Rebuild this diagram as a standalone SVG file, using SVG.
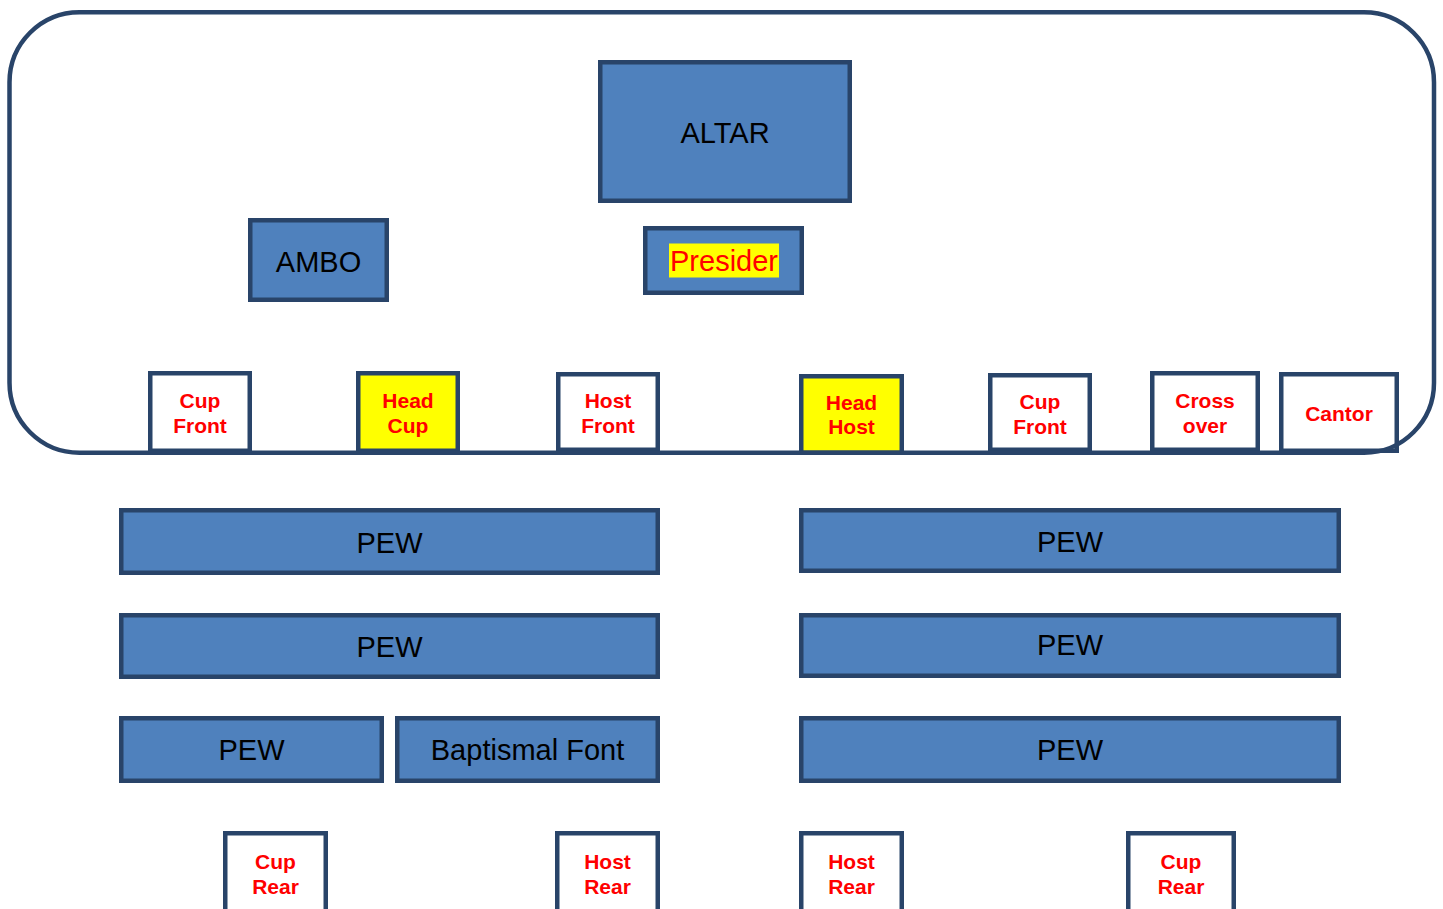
<svg xmlns="http://www.w3.org/2000/svg" width="1443" height="909" viewBox="0 0 1443 909">
<style>
.blue{fill:#4F81BD;stroke:#294469;stroke-width:4.5}
.white{fill:#FFFFFF;stroke:#294469;stroke-width:4.5}
.yellow{fill:#FFFF00;stroke:#294469;stroke-width:4.5}
.room{fill:none;stroke:#294469;stroke-width:4.5}
.big{font-family:"Liberation Sans",Arial,sans-serif;font-size:29px;fill:#000;text-anchor:middle}
.lbl{font-family:"Liberation Sans",Arial,sans-serif;font-size:21px;font-weight:bold;fill:#FF0000;text-anchor:middle}
</style>
<rect width="1443" height="909" fill="#FFFFFF"/>
<g id="altar"><rect class="blue" x="600.25" y="62.25" width="249.5" height="138.5"/><text class="big" x="725" y="143">ALTAR</text></g>
<g id="ambo"><rect class="blue" x="250.25" y="220.25" width="136.5" height="79.5"/><text class="big" x="318.5" y="271.5">AMBO</text></g>
<g id="presider"><rect class="blue" x="645.25" y="228.25" width="156.5" height="64.5"/><rect x="669" y="243.5" width="110" height="34" fill="#FFFF00"/><text class="big" x="724" y="271" fill="#FF0000" style="fill:#FF0000">Presider</text></g>
<g id="cup-front-left"><rect class="white" x="150.25" y="373.25" width="99.5" height="77.5"/><text class="lbl" x="200" y="408">Cup</text><text class="lbl" x="200" y="433">Front</text></g>
<g id="head-cup"><rect class="yellow" x="358.25" y="373.25" width="99.5" height="77.5"/><text class="lbl" x="408" y="407.5">Head</text><text class="lbl" x="408" y="432.5">Cup</text></g>
<g id="host-front"><rect class="white" x="558.25" y="374.25" width="99.5" height="75.5"/><text class="lbl" x="608" y="407.5">Host</text><text class="lbl" x="608" y="432.5">Front</text></g>
<g id="head-host"><rect class="yellow" x="801.25" y="376.25" width="100.5" height="76.5"/><text class="lbl" x="851.5" y="410">Head</text><text class="lbl" x="851.5" y="434">Host</text></g>
<g id="cup-front-right"><rect class="white" x="990.25" y="375.25" width="99.5" height="74.5"/><text class="lbl" x="1040" y="409">Cup</text><text class="lbl" x="1040" y="434">Front</text></g>
<g id="cross-over"><rect class="white" x="1152.25" y="373.25" width="105.5" height="76.5"/><text class="lbl" x="1205" y="408">Cross</text><text class="lbl" x="1205" y="433">over</text></g>
<g id="cantor"><rect class="white" x="1281.25" y="374.25" width="115.5" height="76.5"/><text class="lbl" x="1339" y="421">Cantor</text></g>
<g id="room"><rect class="room" x="9.5" y="12.25" width="1424.5" height="440.5" rx="70" ry="70"/></g>
<g id="pew-l1"><rect class="blue" x="121.25" y="510.25" width="536.5" height="62.5"/><text class="big" x="389.5" y="553">PEW</text></g>
<g id="pew-l2"><rect class="blue" x="121.25" y="615.25" width="536.5" height="61.5"/><text class="big" x="389.5" y="657">PEW</text></g>
<g id="pew-l3"><rect class="blue" x="121.25" y="718.25" width="260.5" height="62.5"/><text class="big" x="251.5" y="760">PEW</text></g>
<g id="baptismal-font"><rect class="blue" x="397.25" y="718.25" width="260.5" height="62.5"/><text class="big" x="527.5" y="760">Baptismal Font</text></g>
<g id="pew-r1"><rect class="blue" x="801.25" y="510.25" width="537.5" height="60.5"/><text class="big" x="1070" y="551.5">PEW</text></g>
<g id="pew-r2"><rect class="blue" x="801.25" y="615.25" width="537.5" height="60.5"/><text class="big" x="1070" y="655">PEW</text></g>
<g id="pew-r3"><rect class="blue" x="801.25" y="718.25" width="537.5" height="62.5"/><text class="big" x="1070" y="760">PEW</text></g>
<g id="cup-rear-left"><rect class="white" x="225.25" y="833.25" width="100.5" height="100"/><text class="lbl" x="275.5" y="868.5">Cup</text><text class="lbl" x="275.5" y="893.5">Rear</text></g>
<g id="host-rear-left"><rect class="white" x="557.25" y="833.25" width="100.5" height="100"/><text class="lbl" x="607.5" y="868.5">Host</text><text class="lbl" x="607.5" y="893.5">Rear</text></g>
<g id="host-rear-right"><rect class="white" x="801.25" y="833.25" width="100.5" height="100"/><text class="lbl" x="851.5" y="868.5">Host</text><text class="lbl" x="851.5" y="893.5">Rear</text></g>
<g id="cup-rear-right"><rect class="white" x="1128.25" y="833.25" width="105.5" height="100"/><text class="lbl" x="1181" y="868.5">Cup</text><text class="lbl" x="1181" y="893.5">Rear</text></g>
<g id="connectors"></g>
</svg>
